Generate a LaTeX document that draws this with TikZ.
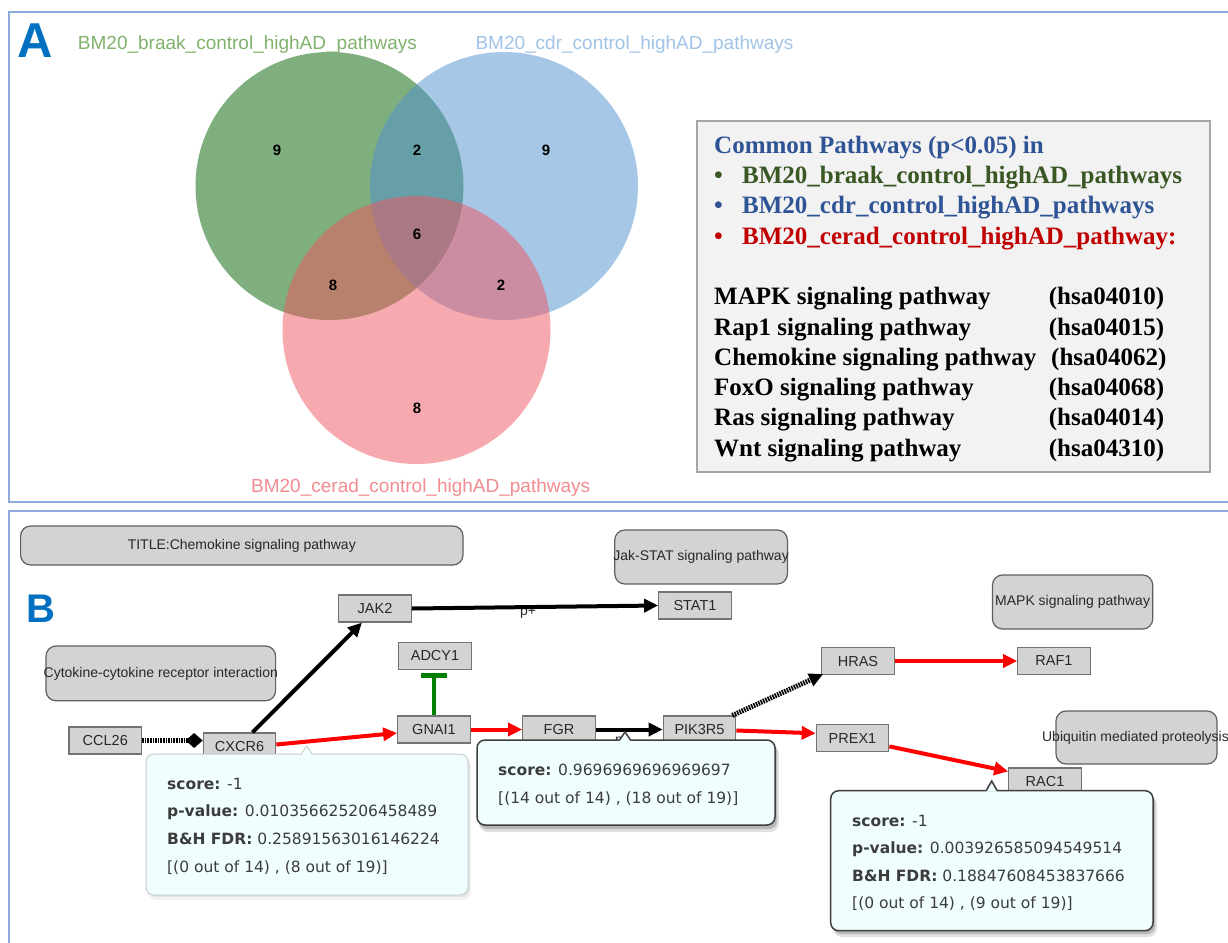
\documentclass[tikz,border=0pt]{standalone}
\usepackage{fontspec}
\setmainfont{Liberation Sans}
\newfontfamily\tnr{Liberation Serif}
\newfontfamily\dvs{DejaVu Sans}
\usetikzlibrary{arrows.meta}
\definecolor{panelblue}{RGB}{143,170,220}
\definecolor{letterblue}{RGB}{0,112,192}
\definecolor{vgreen}{RGB}{0,95,0}
\definecolor{vblue}{RGB}{81,145,209}
\definecolor{vred}{RGB}{239,85,95}
\definecolor{labgreen}{RGB}{128,178,108}
\definecolor{labblue}{RGB}{160,196,232}
\definecolor{labred}{RGB}{242,140,145}
\definecolor{legblue}{RGB}{47,84,150}
\definecolor{leggreen}{RGB}{56,87,35}
\definecolor{legred}{RGB}{192,0,0}
\definecolor{legfill}{RGB}{242,242,242}
\definecolor{legdraw}{RGB}{165,165,165}
\definecolor{boxfill}{RGB}{211,211,211}
\definecolor{boxdraw}{RGB}{115,115,115}
\definecolor{pboxdraw}{RGB}{95,95,95}
\definecolor{boxtext}{RGB}{40,40,40}
\definecolor{tipfill}{RGB}{240,254,255}
\definecolor{tiptext}{RGB}{60,60,60}
\definecolor{tipdark}{RGB}{62,62,62}
\definecolor{tiplight}{RGB}{200,205,205}
\definecolor{edgered}{RGB}{255,0,0}
\definecolor{edgegreen}{RGB}{0,128,0}
\begin{document}
\begin{tikzpicture}[x=1pt,y=-1pt,
  gene/.style={draw=boxdraw, line width=1.2pt, fill=boxfill, minimum width=72.5pt, minimum height=27pt, inner sep=0pt, font=\fontsize{14.5}{17}\selectfont, text=boxtext},
  pbox/.style={draw=pboxdraw, line width=1.2pt, fill=boxfill, rounded corners=10pt, inner sep=0pt},
  ptext/.style={font=\fontsize{14}{16}\selectfont, text=boxtext, inner sep=0pt},
  redarrow/.style={draw=edgered, line width=4pt, -{Triangle[length=14pt,width=13pt]}},
  blkarrow/.style={draw=black, line width=4pt, -{Triangle[length=14pt,width=13pt]}},
  stripe/.style={draw=black, line width=5pt, dash pattern=on 1.6pt off 1pt},
  vlab/.style={font=\fontsize{19}{22}\selectfont, inner sep=0pt, anchor=base},
  vnum/.style={font=\bfseries\fontsize{15}{17}\selectfont, inner sep=0pt},
  legt/.style={font=\tnr\bfseries\fontsize{25}{29}\selectfont, inner sep=0pt, anchor=base west},
  tipt/.style={font=\dvs\fontsize{15.5}{18}\selectfont, text=tiptext, inner sep=0pt, anchor=base west},
  plabel/.style={font=\fontsize{14}{16}\selectfont, text=boxtext, inner sep=0pt, anchor=base}
]
\useasboundingbox (0,0) rectangle (1228,942);
\fill[white] (0,0) rectangle (1228,942);

% ---------------- Panel A ----------------
\draw[panelblue, line width=1.6pt] (9,12) rectangle (1240,502);
\node[font=\bfseries\fontsize{49}{52}\selectfont, text=letterblue, inner sep=0pt, anchor=base west] (letA) at (17,58) {A};

\fill[vgreen, fill opacity=0.5] (329.5,186) circle (134);
\fill[vblue, fill opacity=0.5] (504,186) circle (134);
\fill[vred, fill opacity=0.5] (416.5,330) circle (134);

\node[vlab, text=labgreen] (labA1) at (247.5,50) {BM20\_braak\_control\_highAD\_pathways};
\node[vlab, text=labblue] (labA2) at (634.5,50) {BM20\_cdr\_control\_highAD\_pathways};
\node[vlab, text=labred] (labA3) at (420.7,492.7) {BM20\_cerad\_control\_highAD\_pathways};

\node[vnum] (n1) at (277,150) {9};
\node[vnum] (n2) at (417,150) {2};
\node[vnum] (n3) at (546,150) {9};
\node[vnum] (n4) at (417,234) {6};
\node[vnum] (n5) at (333,285) {8};
\node[vnum] (n6) at (501,285) {2};
\node[vnum] (n7) at (417,408) {8};

\node[draw=legdraw, fill=legfill, line width=1.6pt, minimum width=513pt, minimum height=351pt, inner sep=0pt] (legend) at (953.5,296.5) {};
\node[legt, text=legblue] (lg0) at (714,153.5) {Common Pathways (p<0.05) in};
\node[legt, text=leggreen] (lg1b) at (714,183.3) {\textbullet};
\node[legt, text=leggreen] (lg1) at (742,183.3) {BM20\_braak\_control\_highAD\_pathways};
\node[legt, text=legblue] (lg2b) at (714,213.3) {\textbullet};
\node[legt, text=legblue] (lg2) at (742,213.3) {BM20\_cdr\_control\_highAD\_pathways};
\node[legt, text=legred] (lg3b) at (714,244) {\textbullet};
\node[legt, text=legred] (lg3) at (742,244) {BM20\_cerad\_control\_highAD\_pathway:};
\node[legt] (p1) at (714,304) {MAPK signaling pathway};
\node[legt] (h1) at (1048.6,304) {(hsa04010)};
\node[legt] (p2) at (714,335) {Rap1 signaling pathway};
\node[legt] (h2) at (1048.6,335) {(hsa04015)};
\node[legt] (p3) at (714,365) {Chemokine signaling pathway};
\node[legt] (h3) at (1051,365) {(hsa04062)};
\node[legt] (p4) at (714,395) {FoxO signaling pathway};
\node[legt] (h4) at (1048.6,395) {(hsa04068)};
\node[legt] (p5) at (714,425) {Ras signaling pathway};
\node[legt] (h5) at (1048.6,425) {(hsa04014)};
\node[legt] (p6) at (714,456) {Wnt signaling pathway};
\node[legt] (h6) at (1048.6,456) {(hsa04310)};

% ---------------- Panel B ----------------
\draw[panelblue, line width=1.6pt] (9,511) rectangle (1240,960);
\node[font=\bfseries\fontsize{40}{44}\selectfont, text=letterblue, inner sep=0pt, anchor=base west] (letB) at (26,622) {B};

% pathway boxes
\node[pbox, minimum width=442.4pt, minimum height=39pt] (title) at (241.8,545.5) {};
\node[ptext] (titlet) at (title.center) {TITLE:Chemokine signaling pathway};
\node[pbox, minimum width=229.6pt, minimum height=54.7pt] (cyto) at (160.8,673.4) {};
\node[ptext] (cytot) at (cyto.center) {Cytokine-cytokine receptor interaction};
\node[pbox, minimum width=172.6pt, minimum height=54pt] (jakstat) at (701.1,557) {};
\node[ptext] (jakstatt) at (jakstat.center) {Jak-STAT signaling pathway};
\node[pbox, minimum width=160.2pt, minimum height=54pt] (mapk) at (1072.6,602) {};
\node[ptext] (mapkt) at (mapk.center) {MAPK signaling pathway};
\node[pbox, minimum width=161pt, minimum height=53pt] (ubiq) at (1136.5,737.5) {};
\node[ptext] (ubiqt) at (1135.5,737.5) {Ubiquitin mediated proteolysis};

% genes
\node[gene] (jak2) at (375,608.5) {JAK2};
\node[gene] (stat1) at (695,605.5) {STAT1};
\node[gene] (adcy1) at (435,656) {ADCY1};
\node[gene] (gnai1) at (434,729.5) {GNAI1};
\node[gene] (fgr) at (559,729.5) {FGR};
\node[gene] (pik3r5) at (699.5,729.5) {PIK3R5};
\node[gene] (ccl26) at (105.3,740.5) {CCL26};
\node[gene] (cxcr6) at (239.5,746.5) {CXCR6};
\node[gene] (hras) at (858,661) {HRAS};
\node[gene] (raf1) at (1054,661) {RAF1};
\node[gene] (prex1) at (852.5,738.3) {PREX1};
\node[gene] (rac1) at (1045,781.5) {RAC1};

% edge labels (behind lines)
\node[plabel] (lab1) at (528,615.5) {p+};
\node[plabel] (lab2) at (623,744) {p+};

% edges
\draw[stripe, -{Diamond[length=17pt,width=15pt,line width=0pt]}] (ccl26.east) -- (ccl26.east -| cxcr6.west);
\draw[blkarrow] ([xshift=13pt]cxcr6.north) -- ([xshift=-13pt]jak2.south);
\draw[redarrow] ([yshift=2pt]cxcr6.east) -- ([yshift=-3.5pt]gnai1.west);
\draw[blkarrow] (jak2.east) -- (stat1.west);
\draw[draw=edgegreen, line width=4pt, -{Bar[width=26pt,line width=5pt]}, shorten >=3pt] (gnai1.north) -- (gnai1.north |- adcy1.south);
\draw[redarrow] (gnai1.east) -- (fgr.west);
\draw[blkarrow] (fgr.east) -- (pik3r5.west);
\draw[stripe, -{Triangle[length=14pt,width=13pt]}] ([xshift=-4pt]pik3r5.north east) -- ([xshift=2pt,yshift=1pt]hras.south west);
\draw[redarrow] (hras.east) -- (raf1.west);
\draw[redarrow] ([yshift=-1pt]pik3r5.east) -- ([yshift=5pt]prex1.west);
\draw[redarrow] ([yshift=6pt]prex1.south east) -- ([yshift=-4pt]rac1.north west);

% tooltip 1 (CXCR6)
\fill[black, opacity=0.05, rounded corners=9pt] (147,757) rectangle (471,900);
\fill[black, opacity=0.05, rounded corners=8pt] (148,756) rectangle (470,897);
\draw[tiplight, fill=tipfill, line width=1pt, rounded corners=8pt] (146,754) rectangle (468,895);
\fill[tipfill] (301.2,754.8) -- (306.7,746) -- (312.2,754.8) -- cycle;
\draw[tiplight, line width=1pt] (301.2,754) -- (306.7,746) -- (312.2,754);
\node[tipt] (t1a) at (167,789.3) {\textbf{score:} -1};
\node[tipt] (t1b) at (167,816) {\textbf{p-value:} 0.010356625206458489};
\node[tipt] (t1c) at (167,844.3) {\textbf{B\&H FDR:} 0.25891563016146224};
\node[tipt] (t1d) at (167,872.7) {[(0 out of 14) , (8 out of 19)]};

% tooltip 2 (FGR-PIK3R5)
\fill[black, opacity=0.12, rounded corners=9pt] (479,745) rectangle (779,832);
\fill[black, opacity=0.18, rounded corners=8pt] (479,743) rectangle (777,829);
\draw[tipdark, fill=tipfill, line width=1.5pt, rounded corners=8pt] (477,740) rectangle (775,825);
\fill[tipfill] (619.5,740.9) -- (625,732) -- (630.5,740.9) -- cycle;
\draw[tipdark, line width=1.5pt] (619.5,740) -- (625,732) -- (630.5,740);
\node[tipt] (t2a) at (498,775.7) {\textbf{score:} 0.9696969696969697};
\node[tipt] (t2b) at (498,803.3) {[(14 out of 14) , (18 out of 19)]};

% tooltip 3 (RAC1)
\fill[black, opacity=0.12, rounded corners=9pt] (833,796) rectangle (1157,937);
\fill[black, opacity=0.18, rounded corners=8pt] (833,794) rectangle (1155,934);
\draw[tipdark, fill=tipfill, line width=1.5pt, rounded corners=8pt] (830.7,790.7) rectangle (1153,930.7);
\fill[tipfill] (986.2,791.6) -- (991.7,781) -- (997.2,791.6) -- cycle;
\draw[tipdark, line width=1.5pt] (986.2,790.7) -- (991.7,781) -- (997.2,790.7);
\node[tipt] (t3a) at (852,826) {\textbf{score:} -1};
\node[tipt] (t3b) at (852,853.3) {\textbf{p-value:} 0.003926585094549514};
\node[tipt] (t3c) at (852,881) {\textbf{B\&H FDR:} 0.18847608453837666};
\node[tipt] (t3d) at (852,908.3) {[(0 out of 14) , (9 out of 19)]};
\end{tikzpicture}
\end{document}
